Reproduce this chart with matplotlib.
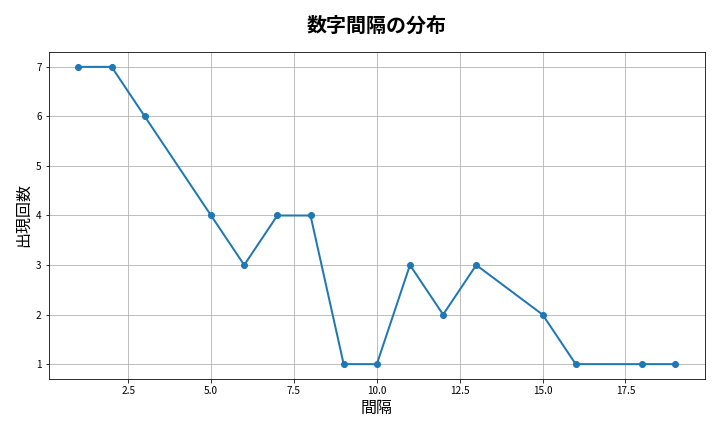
import numpy as np
import matplotlib
matplotlib.use('Agg')
import matplotlib.pyplot as plt

plt.rcParams['font.family'] = ['Noto Sans CJK JP', 'DejaVu Sans']

intervals = [1, 2, 3, 5, 6, 7, 8, 9, 10, 11, 12, 13, 15, 16, 18, 19]
counts = [7, 7, 6, 4, 3, 4, 4, 1, 1, 3, 2, 3, 2, 1, 1, 1]

fig, ax = plt.subplots(figsize=(10, 6), dpi=72)
ax.plot(intervals, counts, marker='o', linewidth=2, color='#1f77b4')
ax.set_title('数字間隔の分布', fontsize=20, fontweight='bold', pad=20)
ax.set_xlabel('間隔', fontsize=16)
ax.set_ylabel('出現回数', fontsize=16)
ax.tick_params(labelsize=10)
ax.grid(True)
plt.tight_layout(pad=1.5)
plt.savefig('out.png')
